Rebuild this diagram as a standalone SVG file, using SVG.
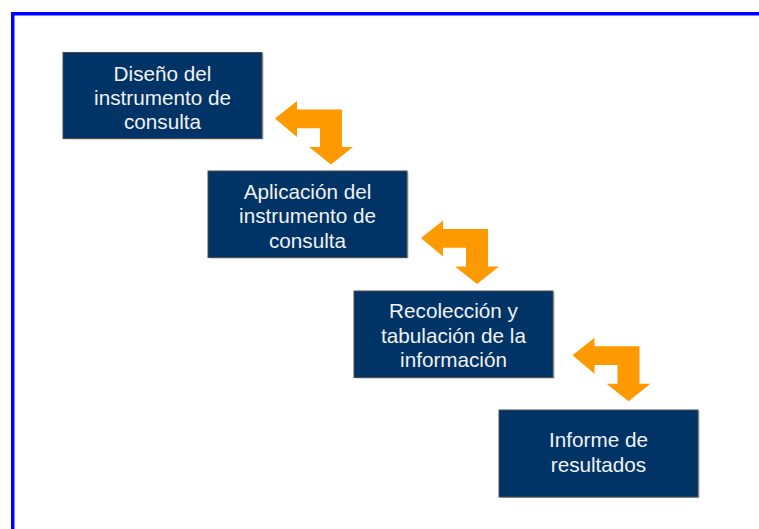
<svg xmlns="http://www.w3.org/2000/svg" xmlns:xlink="http://www.w3.org/1999/xlink" width="759" height="529" viewBox="0 0 759 529">
  <style>
    .box { fill: #003366; stroke: #4d4d4d; stroke-width: 1; }
    .shadow { fill: #b8b8b8; }
    .lbl { font-family: "Liberation Sans", Arial, sans-serif; font-size: 20.7px; fill: #f2f2f2; text-anchor: middle; }
    .arrow { fill: #ff9900; }
    .frame { stroke: #0000ff; stroke-width: 3.5; fill: none; }
  </style>
  <defs>
    <path id="bentArrow" d="M0,0 L22,-17.5 L22,-9 L67,-9 L67,28.5 L78,28.5 L56,46 L34,28.5 L45,28.5 L45,9.8 L22,9.8 L22,18.5 Z"/>
  </defs>
  <rect x="0" y="0" width="759" height="529" fill="#ffffff"/>
  <g id="frame">
    <path class="frame" d="M12.75,529 L12.75,13.75 L759,13.75"/>
  </g>
  <g id="connectors">
    <use xlink:href="#bentArrow" class="arrow" transform="translate(275,118.5)"/>
    <use xlink:href="#bentArrow" class="arrow" transform="translate(421,238)"/>
    <use xlink:href="#bentArrow" class="arrow" transform="translate(572.5,355.3)"/>
  </g>
  <g id="node1">
    <rect class="shadow" x="64.5" y="53.5" width="199" height="86"/>
    <rect class="box" x="63" y="52.5" width="199" height="86"/>
    <text class="lbl" x="162.5" y="80.7">Diseño del</text>
    <text class="lbl" x="162.5" y="105">instrumento de</text>
    <text class="lbl" x="162.5" y="129.3">consulta</text>
  </g>
  <g id="node2">
    <rect class="shadow" x="209.5" y="172" width="199" height="86.5"/>
    <rect class="box" x="208" y="171" width="199" height="86.5"/>
    <text class="lbl" x="307.5" y="198.8">Aplicación del</text>
    <text class="lbl" x="307.5" y="223.2">instrumento de</text>
    <text class="lbl" x="307.5" y="247.5">consulta</text>
  </g>
  <g id="node3">
    <rect class="shadow" x="355.5" y="292" width="199" height="86.5"/>
    <rect class="box" x="354" y="291" width="199" height="86.5"/>
    <text class="lbl" x="453.5" y="318">Recolección y</text>
    <text class="lbl" x="453.5" y="342.6">tabulación de la</text>
    <text class="lbl" x="453.5" y="367.2">información</text>
  </g>
  <g id="node4">
    <rect class="shadow" x="500.5" y="411" width="199" height="87"/>
    <rect class="box" x="499" y="410" width="199" height="87"/>
    <text class="lbl" x="598.5" y="446.7">Informe de</text>
    <text class="lbl" x="598.5" y="471.7">resultados</text>
  </g>
</svg>
